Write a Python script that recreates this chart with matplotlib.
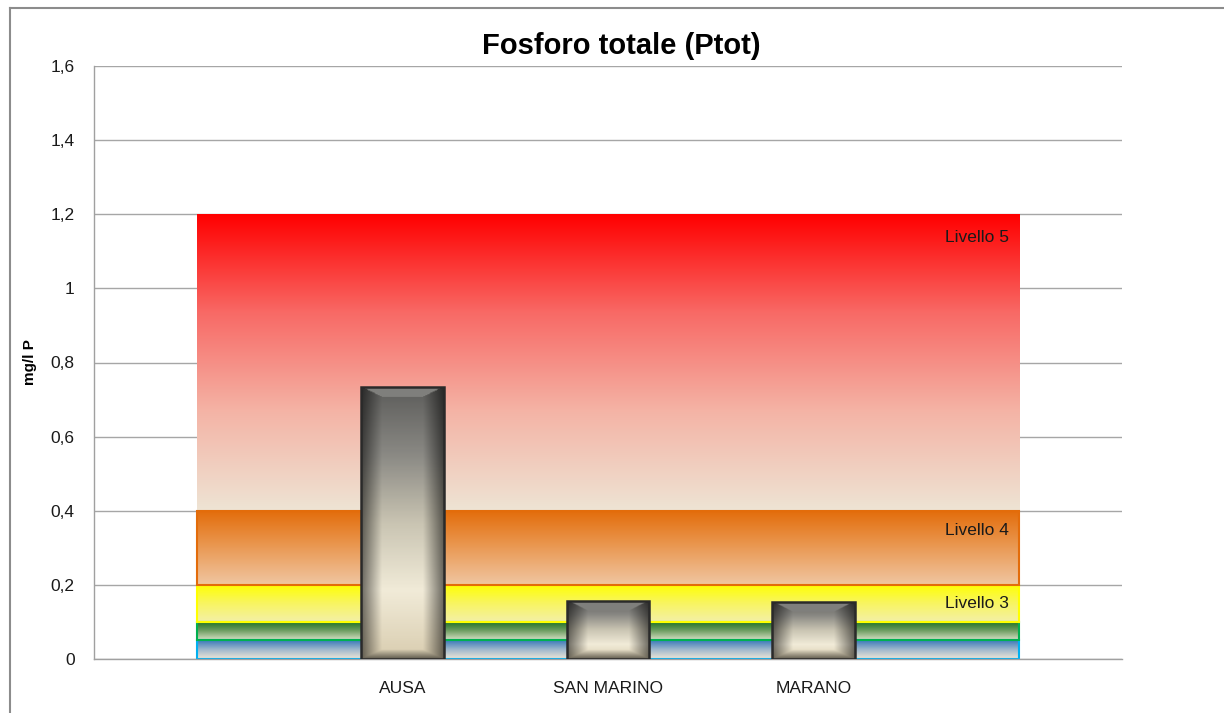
import numpy as np
import matplotlib
matplotlib.use('Agg')
import matplotlib.pyplot as plt
from matplotlib.colors import LinearSegmentedColormap, to_rgb
from matplotlib.patches import Rectangle
from matplotlib.lines import Line2D
from matplotlib.ticker import FuncFormatter, MultipleLocator

# --- dati ---
categories = ['', 'AUSA', 'SAN MARINO', 'MARANO', '']
values = [np.nan, 0.735, 0.157, 0.154, np.nan]

level_bottoms = [0.0, 0.05, 0.1, 0.2, 0.4]
level_tops = [0.05, 0.1, 0.2, 0.4, 1.2]
level_names = ['', '', 'Livello 3', 'Livello 4', 'Livello 5']
level_label_y = [None, None, 0.151, 0.348, 1.136]

# colori dei gradienti (dal basso verso l'alto) e bordi
level_colors = [
    ['#efe6d6', '#9fb8cc', '#3a78b8'],
    ['#d7e0c4', '#6e9e62', '#1c6e22'],
    ['#f4f0a8', '#f8f560', '#ffff00'],
    ['#f0c6a2', '#ea9a55', '#e36c0a'],
    ['#eee4d4', '#f4b4a6', '#f86a66', '#ff0000'],
]
level_edges = ['#00b0f0', '#00b050', '#ffff00', '#e36c0a', 'none']

plt.rcParams['font.family'] = ['Liberation Sans', 'DejaVu Sans']

fig = plt.figure(figsize=(12.24, 7.13), dpi=100)
ax = fig.add_axes([94 / 1224, 1 - 659 / 713, 1028 / 1224, 593 / 713])

x = np.arange(len(categories))


def vgrad(ax, x0, x1, y0, y1, colors, edge):
    cmap = LinearSegmentedColormap.from_list('g', colors)
    grad = np.linspace(0, 1, 256).reshape(-1, 1)
    ax.imshow(grad, extent=(x0, x1, y0, y1), origin='lower', cmap=cmap,
              aspect='auto', zorder=1, interpolation='bilinear')
    if edge != 'none':
        ax.add_patch(Rectangle((x0, y0), x1 - x0, y1 - y0, fill=False,
                               edgecolor=edge, lw=1.5, zorder=2))


# fasce dei livelli, da prima a ultima categoria
for b, t, cols, ec in zip(level_bottoms, level_tops, level_colors, level_edges):
    vgrad(ax, x[0], x[-1], b, t, cols, ec)

for name, ly in zip(level_names, level_label_y):
    if name:
        ax.text(x[-1] - 0.05, ly, name, ha='right', va='center', fontsize=12.5,
                color='#1a1a1a', zorder=3)

# barre con effetto smussato
bars = ax.bar(x, values, width=0.4, color='none', edgecolor='#2a2a2a', lw=1.8, zorder=5)
bar_cmap = LinearSegmentedColormap.from_list(
    'bar', ['#d9cdb0', '#f1ebd8', '#c9c4b2', '#8a8984', '#5c5c5a'])
for p in bars.patches:
    h = p.get_height()
    if not np.isfinite(h) or h <= 0:
        continue
    x0, w = p.get_x(), p.get_width()
    H, W = 300, 80
    yy = np.linspace(0, h, H).reshape(-1, 1)
    xx = np.linspace(0, w, W).reshape(1, -1)
    base = bar_cmap(np.clip(yy / h, 0, 1))[..., :3] * np.ones((1, W, 1))
    side = np.minimum(xx, w - xx) / (0.05 * 2)
    bot = yy / 0.025
    shade = 0.45 + 0.55 * np.clip(np.minimum(side, bot), 0, 1)
    img = base * shade[..., None]
    # smusso superiore grigio
    top = (h - yy) < 0.028
    top_band = np.broadcast_to(top, (H, W)) & (np.broadcast_to(side, (H, W)) > (h - yy) / 0.028)
    img[top_band] = np.array(to_rgb('#8e8e8a')) * 0.9
    im = ax.imshow(img, extent=(x0, x0 + w, 0, h), origin='lower', aspect='auto',
                   zorder=4, interpolation='bilinear')
    im.set_clip_path(p)

ax.set_xlim(-0.5, len(categories) - 0.5)
ax.set_ylim(0, 1.6)
ax.yaxis.set_major_locator(MultipleLocator(0.2))
ax.yaxis.set_major_formatter(FuncFormatter(lambda v, _: f'{v:.1f}'.rstrip('0').rstrip('.').replace('.', ',')))
ax.set_xticks(x)
ax.set_xticklabels(categories)
ax.tick_params(axis='both', length=0, labelsize=12.5, colors='#1a1a1a')
ax.tick_params(axis='x', pad=16)
ax.tick_params(axis='y', pad=14)
ax.grid(axis='y', color='#a6a6a6', lw=1)
ax.set_axisbelow(True)
for s in ['top', 'right']:
    ax.spines[s].set_visible(False)
for s in ['left', 'bottom']:
    ax.spines[s].set_color('#a0a0a0')
    ax.spines[s].set_linewidth(1)

fig.text(0.508, 1 - 46 / 713, 'Fosforo totale (Ptot)', ha='center', va='center',
         fontsize=21, fontweight='bold')
fig.text(30 / 1224, 1 - 362 / 713, 'mg/l P', rotation=90, ha='center', va='center',
         fontsize=11, fontweight='bold')

# cornice esterna del grafico
fig.add_artist(Line2D([10 / 1224, 10 / 1224], [0, 1 - 8 / 713], color='#8c8c8c', lw=1.5))
fig.add_artist(Line2D([10 / 1224, 1], [1 - 8 / 713, 1 - 8 / 713], color='#8c8c8c', lw=1.5))

fig.savefig('out.png', dpi=100)
